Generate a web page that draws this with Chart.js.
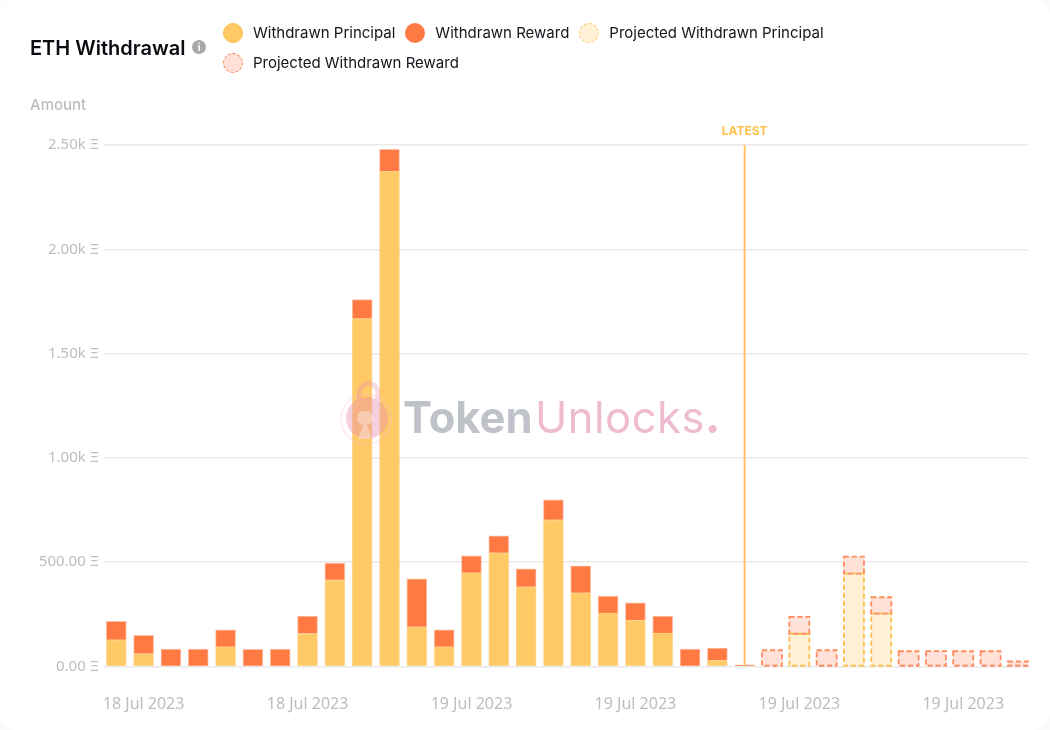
<!DOCTYPE html>
<html>
<head>
<meta charset="utf-8">
<script src="https://cdn.jsdelivr.net/npm/chart.js@4"></script>
<style>
    html, body { margin: 0; padding: 0; background: #fbfbfb; }
    #card { position: relative; width: 1050px; height: 730px; background: #fff; border-radius: 18px; overflow: hidden; font-family: Inter, sans-serif; }
    canvas { position: absolute; left: 0; top: 0; }
    #title { position: absolute; left: 30px; top: 36px; font-size: 20px; font-weight: 600; line-height: 24px; color: #0b0b12; }
    #info { position: absolute; left: 192px; top: 40px; width: 14px; height: 14px; border-radius: 50%; background: #a9a9a9; color: #fff; font-size: 10px; font-weight: 700; line-height: 14px; text-align: center; }
    #legend { position: absolute; left: 223px; top: 22px; width: 620px; display: flex; flex-wrap: wrap; row-gap: 9px; font-size: 15px; color: #14141c; }
    .item { display: flex; align-items: center; height: 21px; margin-right: 10px; }
    .dot { width: 20px; height: 20px; border-radius: 50%; margin-right: 10px; box-sizing: border-box; }
    #amount { position: absolute; left: 30px; top: 96px; font-size: 15px; font-weight: 500; line-height: 18px; color: #bdbdbd; }
    #mark { position: absolute; left: 340px; top: 378px; width: 390px; height: 80px; pointer-events: none; }
    #mark span { position: absolute; top: 14px; font-size: 43.5px; line-height: 50px; }
</style>
</head>
<body>
<div id="card">
    <canvas id="chart" width="1050" height="730"></canvas>
    <div id="title">ETH Withdrawal</div>
    <div id="info">i</div>
    <div id="legend"></div>
    <div id="amount">Amount</div>
    <div id="mark">
        <svg width="60" height="80" style="position:absolute;left:0;top:0">
            <circle cx="26" cy="41" r="25" fill="none" stroke="#f3c3d6" stroke-opacity="0.35" stroke-width="1.5"/>
            <path d="M19 22 V15 A9.5 9.5 0 0 1 38 15 V22" fill="none" stroke="#e88fb4" stroke-opacity="0.3" stroke-width="5"/>
            <circle cx="27" cy="40" r="21" fill="#e88fb4" fill-opacity="0.42"/>
            <path d="M25 33 a7 7 0 0 1 2 14 l5 14 h-14 l5 -14 a7 7 0 0 1 2 -14 z" fill="#fff" fill-opacity="0.35"/>
        </svg>
        <span style="left:63px;font-weight:700;color:#bfc3c9">Token</span>
        <span style="left:195px;font-weight:400;letter-spacing:0.5px;color:#eebbd0">Unlocks<b style="font-weight:800">.</b></span>
    </div>
</div>
<script>
const categories = ['18 Jul 2023', '18 Jul 2023', '18 Jul 2023', '18 Jul 2023', '18 Jul 2023', '18 Jul 2023',
    '18 Jul 2023', '18 Jul 2023', '18 Jul 2023', '18 Jul 2023', '18 Jul 2023', '18 Jul 2023',
    '18 Jul 2023', '19 Jul 2023', '19 Jul 2023', '19 Jul 2023', '19 Jul 2023', '19 Jul 2023',
    '19 Jul 2023', '19 Jul 2023', '19 Jul 2023', '19 Jul 2023', '19 Jul 2023', '19 Jul 2023',
    '19 Jul 2023', '19 Jul 2023', '19 Jul 2023', '19 Jul 2023', '19 Jul 2023', '19 Jul 2023',
    '19 Jul 2023', '19 Jul 2023', '19 Jul 2023', '19 Jul 2023'];

const principal = [128, 62, 0, 0, 95, 0, 0, 158, 416, 1668, 2374, 190, 95, 449, 545, 382, 703, 353, 257, 223, 161, 0, 30, 0];
const reward = [88, 88, 83, 83, 81, 82, 83, 84, 80, 91, 105, 230, 81, 81, 81, 86, 96, 129, 81, 82, 81, 83, 58, 8];
const projectedPrincipal = [157, 445, 253];
const projectedPrincipalAt = [25, 27, 28];
const projectedReward = [78, 81, 78, 82, 79, 73, 74, 73, 73, 24];
const projectedRewardAt = [24, 25, 26, 27, 28, 29, 30, 31, 32, 33];

const yTicks = [0, 500, 1000, 1500, 2000, 2500];
const yTickLabels = ['0.00 Ξ', '500.00 Ξ', '1.00k Ξ', '1.50k Ξ', '2.00k Ξ', '2.50k Ξ'];
const xTickIndexes = [1, 7, 13, 19, 25, 31];
const latestIndex = 23;

const seriesNames = ['Withdrawn Principal', 'Withdrawn Reward', 'Projected Withdrawn Principal', 'Projected Withdrawn Reward'];

const ORANGE = '#ff7a42';
const YELLOW = '#ffc965';

// legend swatches
const legendStyles = [
    'background:' + YELLOW + ';border:1px solid #ffbe4d',
    'background:' + ORANGE,
    'background:#fff0d6;border:1px dashed ' + YELLOW,
    'background:#ffe1d8;border:1px dashed ' + ORANGE
];
seriesNames.forEach((name, i) => {
    const item = document.createElement('div');
    item.className = 'item';
    item.innerHTML = '<div class="dot" style="' + legendStyles[i] + '"></div>' + name;
    document.getElementById('legend').appendChild(item);
});

// dashed outline for projected bars, chart.js only does solid borders
const dashedBars = {
    id: 'dashedBars',
    afterDatasetsDraw(chart) {
        const ctx = chart.ctx;
        chart.data.datasets.forEach((ds, i) => {
            if (!ds.dashColor) return;
            ctx.save();
            ctx.strokeStyle = ds.dashColor;
            ctx.lineWidth = 1.8;
            ctx.setLineDash([5, 3]);
            chart.getDatasetMeta(i).data.forEach(bar => {
                ctx.strokeRect(bar.x - bar.width / 2, bar.y, bar.width, bar.base - bar.y);
            });
            ctx.restore();
        });
    }
};

const latestLine = {
    id: 'latestLine',
    afterDatasetsDraw(chart) {
        const ctx = chart.ctx;
        const x = chart.scales.x.getPixelForValue(latestIndex);
        ctx.save();
        ctx.strokeStyle = '#ffc468';
        ctx.lineWidth = 2;
        ctx.beginPath();
        ctx.moveTo(x, chart.chartArea.top);
        ctx.lineTo(x, chart.chartArea.bottom);
        ctx.stroke();
        ctx.fillStyle = '#ffc14d';
        ctx.font = '700 12px Inter';
        ctx.textAlign = 'center';
        ctx.fillText('LATEST', x, chart.chartArea.top - 10);
        ctx.restore();
    }
};

function toPoints(values, at) {
    return values.map((v, i) => ({ x: at ? at[i] : i, y: v }));
}

new Chart(document.getElementById('chart'), {
    type: 'bar',
    data: {
        datasets: [
            { label: seriesNames[0], data: toPoints(principal), backgroundColor: YELLOW, borderColor: 'rgba(255,190,80,0.6)', borderWidth: 1 },
            { label: seriesNames[1], data: toPoints(reward), backgroundColor: ORANGE, borderColor: 'rgba(255,150,110,0.6)', borderWidth: 1 },
            { label: seriesNames[2], data: toPoints(projectedPrincipal, projectedPrincipalAt), backgroundColor: '#fff0d6', dashColor: '#ffc14d' },
            { label: seriesNames[3], data: toPoints(projectedReward, projectedRewardAt), backgroundColor: '#ffe1d8', dashColor: '#ff8a5c' }
        ]
    },
    options: {
        responsive: false,
        animation: false,
        layout: { padding: { top: 145, right: 22, left: 0, bottom: 0 } },
        barThickness: 20,
        plugins: { legend: { display: false }, tooltip: { enabled: false } },
        scales: {
            x: {
                type: 'linear',
                offset: false,
                stacked: true,
                min: -0.45,
                max: 33.37,
                grid: { display: false },
                border: { display: false },
                afterBuildTicks: scale => { scale.ticks = xTickIndexes.map(v => ({ value: v })); },
                afterFit: scale => { scale.height = 63.5; },
                ticks: {
                    autoSkip: false,
                    maxRotation: 0,
                    padding: 20,
                    color: '#bdbdbd',
                    font: { family: 'Noto Sans', size: 16 },
                    callback: v => categories[v]
                }
            },
            y: {
                stacked: true,
                min: 0,
                max: 2500,
                grid: { color: '#e9e9e9', lineWidth: 1.5, drawTicks: false },
                border: { display: false },
                afterBuildTicks: scale => { scale.ticks = yTicks.map(v => ({ value: v })); },
                afterFit: scale => { scale.width = 104; },
                ticks: {
                    padding: 5,
                    color: '#bdbdbd',
                    font: { family: 'Noto Sans', size: 15 },
                    callback: v => yTickLabels[yTicks.indexOf(v)]
                }
            }
        }
    },
    plugins: [dashedBars, latestLine]
});
</script>
</body>
</html>
